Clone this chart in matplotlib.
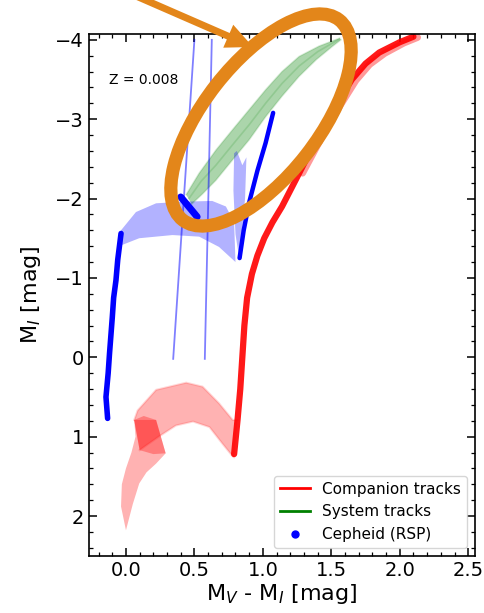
import matplotlib
matplotlib.use("Agg")
import matplotlib.pyplot as plt
from matplotlib.lines import Line2D
from matplotlib.patches import Ellipse, FancyArrow
from matplotlib.ticker import MultipleLocator

# companion tracks: main sequence strip + subgiant hump (light band)
comp_ms_x = [0.0, -0.036, -0.03, 0.0, 0.04, 0.07, 0.06, 0.22, 0.29, 0.22, 0.15, 0.097, 0.05]
comp_ms_y = [2.18, 1.88, 1.60, 1.40, 1.20, 1.0, 0.79, 0.79, 1.21, 1.34, 1.45, 1.59, 1.85]
comp_hook_x = [0.06, 0.13, 0.22, 0.29, 0.20, 0.10]
comp_hook_y = [0.79, 0.74, 0.79, 1.21, 1.22, 1.17]
comp_hump_up_x = [0.06, 0.085, 0.22, 0.44, 0.56, 0.68, 0.78, 0.815]
comp_hump_up_y = [0.79, 0.67, 0.41, 0.32, 0.37, 0.58, 0.79, 0.79]
comp_hump_lo_x = [0.79, 0.78, 0.705, 0.61, 0.49, 0.365, 0.24, 0.10]
comp_hump_lo_y = [1.26, 1.25, 1.09, 0.88, 0.81, 0.86, 1.0, 1.17]
# companion tracks: red giant branch
comp_rgb_x = [0.79, 0.815, 0.835, 0.85, 0.865, 0.885, 0.92, 0.96, 1.01, 1.07, 1.14,
              1.265, 1.39, 1.53, 1.65, 1.75, 1.85, 2.0, 2.1]
comp_rgb_y = [1.22, 0.79, 0.40, 0.0, -0.40, -0.75, -1.05, -1.28, -1.5, -1.7, -1.9,
              -2.32, -2.74, -3.16, -3.50, -3.70, -3.84, -3.97, -4.04]
comp_rgb2_x = [1.29, 1.42, 1.56, 1.68, 1.78, 1.89, 2.03, 2.13]
comp_rgb2_y = [-2.32, -2.74, -3.16, -3.49, -3.69, -3.83, -3.96, -4.03]

# system tracks (upper / middle / lower)
sys_up_x = [0.44, 0.535, 0.657, 0.78, 0.90, 1.02, 1.14, 1.265, 1.41, 1.56]
sys_up_y = [-2.05, -2.32, -2.61, -2.87, -3.12, -3.37, -3.60, -3.79, -3.92, -4.02]
sys_mid_x = [0.46, 0.55, 0.657, 0.78, 0.90, 1.02, 1.14, 1.265, 1.40, 1.56]
sys_mid_y = [-2.0, -2.22, -2.42, -2.68, -2.93, -3.20, -3.45, -3.67, -3.85, -4.01]
sys_lo_x = [0.48, 0.56, 0.657, 0.78, 0.90, 1.02, 1.14, 1.265, 1.39, 1.51, 1.57]
sys_lo_y = [-1.93, -2.06, -2.23, -2.49, -2.74, -3.03, -3.29, -3.54, -3.75, -3.92, -4.0]

# Cepheid (RSP) models
cep_blue_loop_x = [-0.036, 0.073, 0.22, 0.41, 0.63, 0.73, 0.79, 0.80,
                   0.68, 0.535, 0.34, 0.097, -0.036]
cep_blue_loop_y = [-1.60, -1.83, -1.94, -1.96, -1.97, -1.90, -1.70, -1.20,
                   -1.39, -1.52, -1.54, -1.50, -1.41]
cep_v_x = [0.79, 0.81, 0.85, 0.88, 0.87, 0.84, 0.83, 0.80, 0.785]
cep_v_y = [-2.57, -2.60, -2.42, -2.52, -2.0, -1.45, -1.22, -1.55, -2.1]
cep_left_x = [-0.134, -0.146, -0.13, -0.12, -0.10, -0.09, -0.073, -0.06, -0.036]
cep_left_y = [0.77, 0.50, 0.20, -0.05, -0.50, -0.75, -0.97, -1.23, -1.56]
cep_diag_x = [0.40, 0.52]
cep_diag_y = [-2.02, -1.77]
cep_arm_x = [0.83, 0.86, 0.90, 0.96, 1.02, 1.075]
cep_arm_y = [-1.25, -1.60, -1.95, -2.35, -2.70, -3.08]
edge1_x = [0.345, 0.50]
edge1_y = [0.02, -4.0]
edge2_x = [0.576, 0.627]
edge2_y = [0.02, -4.0]

fig = plt.figure(figsize=(4.85, 6.13), dpi=100)
ax = fig.add_axes([0.1835, 0.0935, 0.796, 0.8506])

# companion (red)
ax.fill(comp_ms_x, comp_ms_y, color="red", alpha=0.3, lw=0)
ax.fill(comp_hook_x, comp_hook_y, color="red", alpha=0.3, lw=0)
ax.fill(comp_hump_up_x + comp_hump_lo_x, comp_hump_up_y + comp_hump_lo_y,
        color="red", alpha=0.3, lw=0)
ax.plot(comp_hump_up_x, comp_hump_up_y, color="red", alpha=0.15, lw=1.5)
ax.plot(comp_hump_lo_x, comp_hump_lo_y, color="red", alpha=0.15, lw=1.5)
ax.plot(comp_rgb2_x, comp_rgb2_y, color="red", alpha=0.4, lw=5, solid_capstyle="round")
ax.plot(comp_rgb_x, comp_rgb_y, color="red", alpha=0.9, lw=4.5, solid_capstyle="round")

# system (green)
ax.fill(sys_up_x + sys_lo_x[::-1], sys_up_y + sys_lo_y[::-1],
        color="green", alpha=0.33, lw=0)
for xs, ys in [(sys_up_x, sys_up_y), (sys_mid_x, sys_mid_y), (sys_lo_x, sys_lo_y)]:
    ax.plot(xs, ys, color="green", alpha=0.15, lw=1.2)

# cepheid (blue)
ax.plot(edge1_x, edge1_y, color="blue", alpha=0.5, lw=1.3)
ax.plot(edge2_x, edge2_y, color="blue", alpha=0.5, lw=1.3)
ax.fill(cep_blue_loop_x, cep_blue_loop_y, color="blue", alpha=0.3, lw=0)
ax.fill(cep_v_x, cep_v_y, color="blue", alpha=0.3, lw=0)
ax.plot(cep_left_x, cep_left_y, color="blue", lw=4, solid_capstyle="round")
ax.plot(cep_diag_x, cep_diag_y, color="blue", lw=5, solid_capstyle="round")
ax.plot(cep_arm_x, cep_arm_y, color="blue", lw=3.2, solid_capstyle="round")

ax.text(0.052, 0.912, "Z = 0.008", transform=ax.transAxes, fontsize=10, va="center")

ax.set_xlim(-0.27, 2.55)
ax.set_ylim(2.5, -4.07)
ax.xaxis.set_major_locator(MultipleLocator(0.5))
ax.xaxis.set_minor_locator(MultipleLocator(0.1))
ax.yaxis.set_major_locator(MultipleLocator(1))
ax.yaxis.set_minor_locator(MultipleLocator(0.2))
ax.tick_params(which="both", direction="in", top=True, right=True, labelsize=14)
ax.tick_params(which="major", length=6, width=1.1)
ax.tick_params(which="minor", length=3, width=0.9)
for s in ax.spines.values():
    s.set_linewidth(1.2)
ax.set_xlabel("M$_V$ - M$_I$ [mag]", fontsize=16, labelpad=2)
ax.set_ylabel("M$_I$ [mag]", fontsize=16, labelpad=9)

handles = [Line2D([], [], color="red", lw=2),
           Line2D([], [], color="green", lw=2),
           Line2D([], [], color="blue", marker="o", ls="none", markersize=5)]
ax.legend(handles, ["Companion tracks", "System tracks", "Cepheid (RSP)"],
          loc="lower right", fontsize=11)

# highlight drawn over the whole figure in pixel units
over = fig.add_axes([0, 0, 1, 1])
over.set_xlim(0, 485)
over.set_ylim(0, 613)
over.axis("off")
over.patch.set_alpha(0)
orange = "#E3861A"
over.add_patch(Ellipse((261, 493), 254, 114, angle=52, fill=False,
                       edgecolor=orange, lw=9.5))
over.add_patch(FancyArrow(136, 617, 117, -51, width=7, head_width=25,
                          head_length=27, length_includes_head=True,
                          color=orange, lw=0))

fig.savefig("out.png", dpi=100)
